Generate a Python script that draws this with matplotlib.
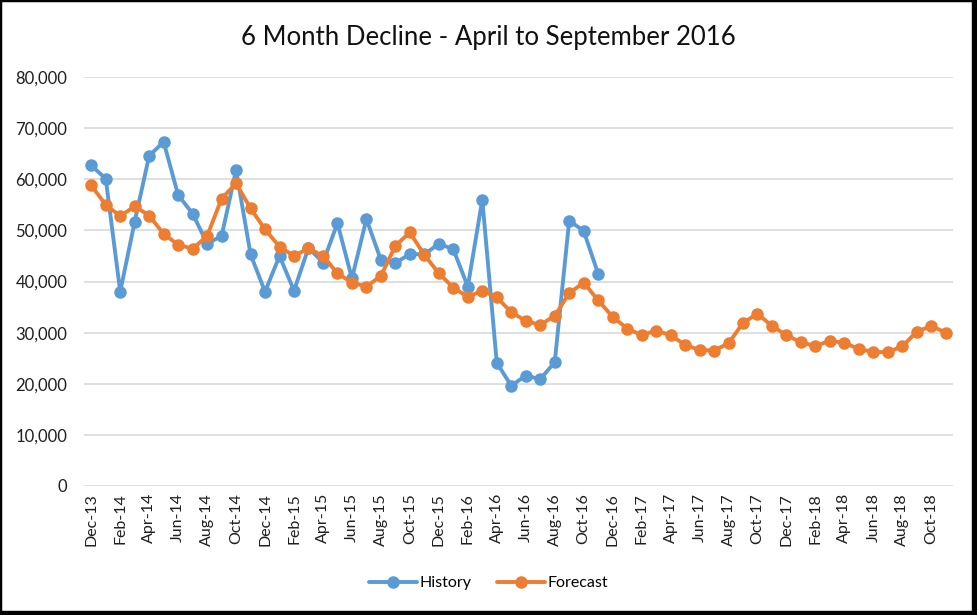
import matplotlib.pyplot as plt
import matplotlib.patches as patches
from matplotlib.ticker import FuncFormatter
import numpy as np
import pandas as pd

# month categories Dec-13 .. Nov-18
months = pd.date_range("2013-12-01", periods=60, freq="MS").strftime("%b-%y").tolist()

history = [62700, 60100, 38000, 51700, 64600, 67300, 56900, 53300, 47400, 48900,
           61800, 45300, 38000, 45000, 38200, 46600, 43700, 51400, 40600, 52200,
           44200, 43600, 45400, 45300, 47400, 46300, 39000, 56000, 24100, 19600,
           21600, 20900, 24200, 51900, 49900, 41500]

forecast = [58800, 55000, 52800, 54700, 52900, 49300, 47200, 46400, 48900, 56200,
            59200, 54300, 50200, 46800, 45000, 46500, 45000, 41600, 39800, 39000,
            41100, 47000, 49600, 45200, 41600, 38800, 37000, 38200, 36900, 34000,
            32300, 31500, 33300, 37700, 39800, 36300, 33100, 30800, 29500, 30400,
            29500, 27600, 26600, 26500, 27900, 31900, 33700, 31300, 29500, 28100,
            27400, 28400, 28000, 26800, 26200, 26200, 27300, 30200, 31300, 30000]

blue = "#5B9BD5"
orange = "#ED7D31"
font = "Lato"

fig = plt.figure(figsize=(9.77, 6.15), dpi=100)
ax = fig.add_axes([84 / 977, 1 - 486 / 615, (953 - 84) / 977, (486 - 77) / 615])

x = np.arange(len(months))
ax.plot(x[:len(history)], history, color=blue, lw=2.8, marker="o", ms=8,
        label="History", solid_capstyle="round")
ax.plot(x, forecast, color=orange, lw=2.8, marker="o", ms=8,
        label="Forecast", solid_capstyle="round")

ax.set_xlim(-0.5, len(months) - 0.5)
ax.set_ylim(0, 80000)
ax.set_yticks(range(0, 80001, 10000))
ax.yaxis.set_major_formatter(FuncFormatter(lambda v, p: f"{int(v):,}"))
ax.set_xticks(x[::2])
ax.set_xticklabels(months[::2], rotation=90)
ax.tick_params(axis="y", length=0, pad=12, labelsize=12, labelcolor="#1f1f1f")
ax.tick_params(axis="x", length=0, pad=5, labelsize=11.5, labelcolor="#1f1f1f")
for lbl in ax.get_xticklabels() + ax.get_yticklabels():
    lbl.set_fontfamily(font)

ax.grid(axis="y", color="#D9D9D9", lw=1.2)
ax.set_axisbelow(True)
for s in ax.spines.values():
    s.set_visible(False)

fig.text(0.5, 1 - 38 / 615, "6 Month Decline - April to September 2016",
         ha="center", va="center", fontsize=18.5, family=font, color="#111111")

leg = fig.legend(loc="center", bbox_to_anchor=(0.5, 1 - 583 / 615), ncol=2,
                 frameon=False, prop={"family": font, "size": 11.5},
                 handlelength=3.0, columnspacing=1.6, handletextpad=0.15)

# black frame round the chart (thicker at right/bottom)
fig.patches.append(patches.Rectangle((0, 0), 1, 1, transform=fig.transFigure,
                                     fill=False, ec="black", lw=2.5))
fig.patches.append(patches.Rectangle((972 / 977, 0), 5 / 977, 1, transform=fig.transFigure,
                                     color="black"))
fig.patches.append(patches.Rectangle((0, 0), 1, 4 / 615, transform=fig.transFigure,
                                     color="black"))

fig.savefig("out.png", dpi=100, facecolor="white")
